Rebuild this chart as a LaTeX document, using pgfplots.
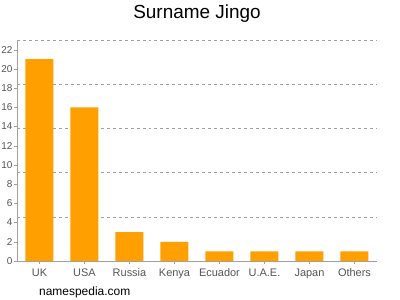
\documentclass[border=0pt]{standalone}
\usepackage{fontspec}
\setmainfont{Liberation Sans}
\usepackage{pgfplots}
\pgfplotsset{compat=1.18}
\definecolor{barorange}{HTML}{FFA000}
\definecolor{axgray}{HTML}{A0A0A0}
\definecolor{txtgray}{HTML}{555555}
\begin{document}
\begin{tikzpicture}[x=1bp,y=1bp]
\path[use as bounding box] (0,0) rectangle (400,300);
\begin{axis}[
  at={(17bp,39bp)}, anchor=south west,
  scale only axis, width=360bp, height=221bp,
  xmin=-0.5, xmax=7.5, ymin=0, ymax=23,
  ybar, bar width=28bp,
  axis x line*=bottom, axis y line*=left,
  axis line style={axgray, -},
  tick style={axgray}, major tick length=3bp, tick align=outside,
  xtick={0,...,7},
  xticklabels={UK,USA,Russia,Kenya,Ecuador,U.A.E.,Japan,Others},
  ytick={0,2,...,22},
  /pgf/number format/assume math mode=true,
  xticklabel style={font=\fontsize{11}{13}\selectfont, text=txtgray, yshift=-1bp},
  yticklabel style={font=\fontsize{10}{12}\selectfont, text=txtgray, xshift=2bp},
  extra y ticks={4.6,9.2,13.8,18.4,23},
  extra y tick labels={},
  extra y tick style={grid=major, major grid style={dashed, axgray, line width=0.5pt}, major tick length=0},
]
\addplot[fill=barorange, draw=none] coordinates {(0,21) (1,16) (2,3) (3,2) (4,1) (5,1) (6,1) (7,1)};
\end{axis}
\node at (197,286) {\fontsize{19}{22}\selectfont Surname Jingo};
\node[anchor=west, inner sep=0] at (39,8) {\fontsize{12}{14}\selectfont namespedia.com};
\end{tikzpicture}
\end{document}
